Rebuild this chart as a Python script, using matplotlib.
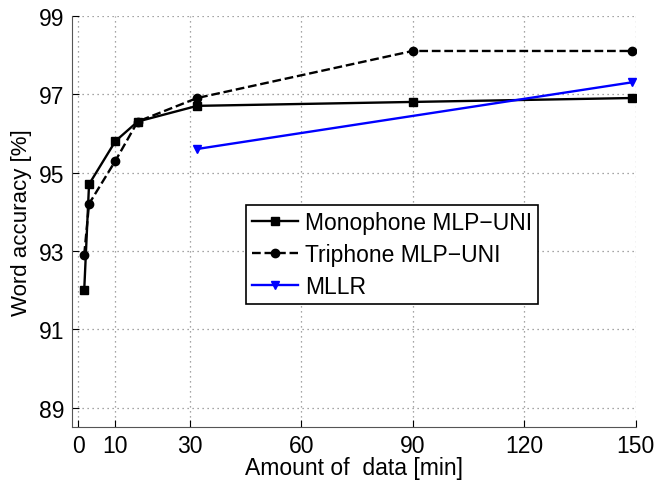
import matplotlib
matplotlib.use('Agg')
import matplotlib.pyplot as plt

plt.rcParams['font.family'] = ['Liberation Sans', 'DejaVu Sans']

x_mono = [1.6, 2.9, 10, 16, 32, 90, 149]
acc_mono = [92.0, 94.7, 95.8, 96.3, 96.7, 96.8, 96.9]
x_tri = [1.6, 2.9, 10, 16, 32, 90, 149]
acc_tri = [92.9, 94.2, 95.3, 96.3, 96.9, 98.1, 98.1]
x_mllr = [32, 149]
acc_mllr = [95.6, 97.3]
xticks = [0, 10, 30, 60, 90, 120, 150]
yticks = [89, 91, 93, 95, 97, 99]

fig = plt.figure(figsize=(6.69, 4.81), dpi=100)
ax = fig.add_axes([0.107, 0.1095, 0.843, 0.8558])

ax.plot(x_mono, acc_mono, '-', color='black', lw=1.7, marker='s', ms=6,
        label='Monophone MLP\u2212UNI')
ax.plot(x_tri, acc_tri, '--', color='black', lw=1.7, marker='o', ms=6,
        label='Triphone MLP\u2212UNI')
ax.plot(x_mllr, acc_mllr, '-', color='blue', lw=1.7, marker='v', ms=6,
        label='MLLR')

ax.set_xlim(-1.8, 150)
ax.set_ylim(88.5, 99)
ax.set_xticks(xticks)
ax.set_yticks(yticks)
ax.grid(True, linestyle=(0, (1, 3)), color='#888888', lw=0.9)
ax.tick_params(direction='in', labelsize=16.5, length=5, pad=5)
for s in ['top', 'right']:
    ax.spines[s].set_visible(False)
for s in ['left', 'bottom']:
    ax.spines[s].set_color('#555555')

ax.set_xlabel('Amount of  data [min]', fontsize=16.5, labelpad=-1)
ax.set_ylabel('Word accuracy [%]', fontsize=16, labelpad=5)

leg = ax.legend(loc='lower left', bbox_to_anchor=(0.310, 0.2996), borderaxespad=0,
                fontsize=16.5, frameon=True, fancybox=False, edgecolor='black',
                handlelength=2.0, labelspacing=0.4, handletextpad=0.3,
                borderpad=0.25, framealpha=1)
leg.get_frame().set_linewidth(1.2)

fig.savefig('out.png', dpi=100)
